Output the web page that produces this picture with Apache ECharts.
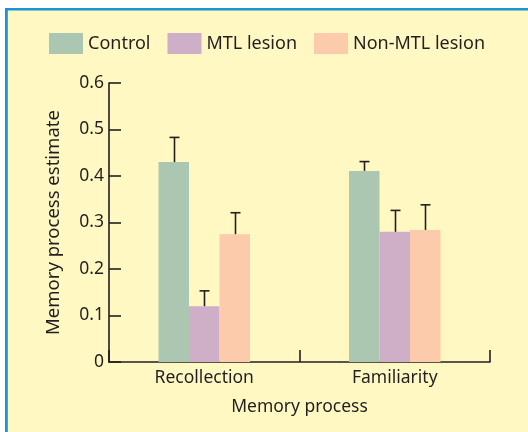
<!DOCTYPE html>
<html>
<head>
<meta charset="utf-8">
<script src="https://cdn.jsdelivr.net/npm/echarts@6/dist/echarts.min.js"></script>
<style>
  html, body { margin: 0; padding: 0; background: #ffffff; }
  #chart { width: 528px; height: 432px; }
</style>
</head>
<body>
<div id="chart"></div>
<script>
// Memory process estimates by group, with upper error bars
const categories = ['Recollection', 'Familiarity'];
const groupNames = ['Control', 'MTL lesion', 'Non-MTL lesion'];
const controlValues = [0.430, 0.411];
const mtlValues = [0.120, 0.280];
const nonMtlValues = [0.275, 0.284];
const controlErrTop = [0.483, 0.431];
const mtlErrTop = [0.153, 0.326];
const nonMtlErrTop = [0.321, 0.338];
const yTicks = [0, 0.1, 0.2, 0.3, 0.4, 0.5, 0.6];

const seriesValues = [controlValues, mtlValues, nonMtlValues];
const seriesErrTop = [controlErrTop, mtlErrTop, nonMtlErrTop];
const colors = ['#abc6b1', '#cfaec8', '#fccbab'];
const ink = '#231f20';
const font = 'Noto Sans';
const FS = 17.5;
const BAR_W = 30.5;

const chart = echarts.init(document.getElementById('chart'), null, { renderer: 'canvas' });

const barSeries = groupNames.map((name, i) => ({
  name: name,
  type: 'bar',
  data: seriesValues[i],
  barWidth: BAR_W,
  barGap: '0%',
  itemStyle: { color: colors[i] },
  emphasis: { disabled: true },
  z: 2
}));

// Upper error bar whiskers, offset to sit over each bar in the group
const errSeries = groupNames.map((name, i) => ({
  type: 'custom',
  name: name + ' err',
  data: categories.map((c, k) => [k, seriesValues[i][k], seriesErrTop[i][k]]),
  encode: { x: 0, y: [1, 2] },
  z: 3,
  silent: true,
  renderItem: function (params, api) {
    const k = api.value(0);
    const base = api.coord([k, api.value(1)]);
    const top = api.coord([k, api.value(2)]);
    const x = Math.round(base[0] + (i - 1) * BAR_W) + 0.5;
    const cap = 5;
    const style = { stroke: ink, lineWidth: 1.6 };
    return {
      type: 'group',
      children: [
        { type: 'line', shape: { x1: x, y1: base[1], x2: x, y2: top[1] }, style: style },
        { type: 'line', shape: { x1: x - cap, y1: top[1], x2: x + cap, y2: top[1] }, style: style }
      ]
    };
  }
}));

chart.setOption({
  backgroundColor: '#ffffff',
  animation: false,
  graphic: [
    { type: 'rect', id: 'panel', z: -10, left: 5, top: 8, shape: { width: 523, height: 424 }, style: { fill: '#fff8c3' } },
    { type: 'rect', id: 'borderTop', z: 10, left: 5, top: 8, shape: { width: 523, height: 2.6 }, style: { fill: '#1a94d3' } },
    { type: 'rect', id: 'borderLeft', z: 10, left: 5, top: 8, shape: { width: 2.8, height: 424 }, style: { fill: '#1a94d3' } }
  ],
  legend: {
    data: groupNames,
    left: 49,
    top: 33,
    padding: 0,
    itemWidth: 34,
    itemHeight: 21,
    itemGap: 17,
    icon: 'rect',
    selectedMode: false,
    textStyle: { fontFamily: font, fontSize: FS + 0.5, color: ink }
  },
  grid: { left: 109, right: 38, top: 83, bottom: 70, containLabel: false },
  xAxis: {
    type: 'category',
    data: categories,
    name: 'Memory process',
    nameLocation: 'middle',
    nameGap: 36,
    nameTextStyle: { fontFamily: font, fontSize: FS, color: ink },
    axisLine: { lineStyle: { color: ink, width: 1.6 } },
    axisTick: { show: true, inside: true, length: 12, alignWithLabel: false, lineStyle: { color: ink, width: 1.6 } },
    axisLabel: { fontFamily: font, fontSize: FS, color: ink, margin: 7 }
  },
  yAxis: {
    type: 'value',
    min: yTicks[0],
    max: yTicks[yTicks.length - 1],
    interval: 0.1,
    name: 'Memory process estimate',
    nameLocation: 'middle',
    nameGap: 46,
    nameTextStyle: { fontFamily: font, fontSize: 18.5, color: ink },
    splitLine: { show: false },
    axisLine: { show: true, lineStyle: { color: ink, width: 1.6 } },
    axisTick: { show: true, inside: true, length: 12, lineStyle: { color: ink, width: 1.6 } },
    axisLabel: {
      fontFamily: font, fontSize: FS, color: ink, margin: 5,
      formatter: v => (v === 0 ? '0' : v.toFixed(1))
    }
  },
  series: barSeries.concat(errSeries)
});
</script>
</body>
</html>
